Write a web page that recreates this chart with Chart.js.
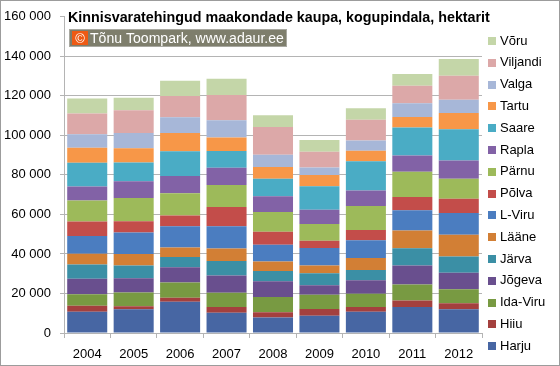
<!DOCTYPE html>
<html>
<head>
<meta charset="utf-8">
<script src="https://cdn.jsdelivr.net/npm/chart.js@4"></script>
<style>
  html, body { margin: 0; padding: 0; background: #fff; }
  #wrap { width: 560px; height: 366px; }
</style>
</head>
<body>
<div id="wrap"><canvas id="chart" width="560" height="366"></canvas></div>
<script>
// Kinnisvaratehingud maakondade kaupa, hektarit
const years = ['2004', '2005', '2006', '2007', '2008', '2009', '2010', '2011', '2012'];

const harju    = [10800, 12000, 15800, 10300, 7800, 8700, 10800, 13200, 12000];
const hiiu     = [3000, 1500, 2000, 2800, 2700, 3500, 2300, 3300, 3000];
const idaViru  = [5800, 7000, 7800, 7300, 7700, 7200, 6800, 8000, 7200];
const jogeva   = [7800, 7200, 7700, 8700, 8000, 4800, 6800, 9700, 8300];
const jarva    = [7200, 6500, 5200, 7300, 5200, 6000, 5200, 8700, 8200];
const laane    = [5500, 5800, 4800, 6300, 4800, 4000, 6000, 9000, 11000];
const lViru    = [9000, 10800, 10700, 11300, 8500, 8800, 9000, 10200, 11000];
const polva    = [7300, 5700, 5500, 9700, 6500, 3700, 5200, 6700, 7200];
const parnu    = [10700, 11800, 11200, 11200, 10000, 8500, 12200, 12800, 10200];
const rapla    = [7000, 8500, 8800, 8700, 8000, 7200, 7800, 8200, 9200];
const saare    = [12000, 9500, 12500, 8500, 8800, 11800, 14800, 14200, 15800];
const tartu    = [7700, 7200, 9200, 6800, 6000, 5700, 5300, 5300, 8200];
const valga    = [6800, 7700, 8000, 8800, 6200, 3800, 5200, 7000, 6700];
const viljandi = [10500, 11500, 10700, 12700, 14000, 8000, 10500, 8800, 12200];
const voru     = [7500, 6300, 7800, 8200, 6000, 6000, 5800, 6000, 8500];

const countyNames = ['Harju', 'Hiiu', 'Ida-Viru', 'Jõgeva', 'Järva', 'Lääne', 'L-Viru',
    'Põlva', 'Pärnu', 'Rapla', 'Saare', 'Tartu', 'Valga', 'Viljandi', 'Võru'];
const countyValues = [harju, hiiu, idaViru, jogeva, jarva, laane, lViru,
    polva, parnu, rapla, saare, tartu, valga, viljandi, voru];
const countyColors = ['#4766a3', '#a4403e', '#789a42', '#694f8e', '#3b8fa5', '#d27f35', '#4b7dc0',
    '#c34d4a', '#9dba5a', '#8262a6', '#4aacc5', '#f79748', '#a7b7d8', '#dca8a8', '#c4d6a8'];

const yTicks = [0, 20000, 40000, 60000, 80000, 100000, 120000, 140000, 160000];

const titleText = 'Kinnisvaratehingud maakondade kaupa, kogupindala, hektarit';
const creditText = 'Tõnu Toompark, www.adaur.ee';

const FONT = "'Liberation Sans', Arial, sans-serif";
const GRID = '#b4b4b4';

// fit a font size so that the text gets the wanted width
function fitFont(ctx, text, weight, width, base) {
    ctx.font = weight + ' ' + base + 'px ' + FONT;
    const w = ctx.measureText(text).width;
    return base * width / w;
}

// Frame, title, credit box and the legend
const decorPlugin = {
    id: 'decor',
    afterDraw(chart) {
        const ctx = chart.ctx;
        ctx.save();

        // outer frame
        ctx.strokeStyle = '#9c9c9c';
        ctx.lineWidth = 1;
        ctx.strokeRect(0.5, 0.5, chart.width - 1, chart.height - 1);

        // title
        const ts = fitFont(ctx, titleText, 'bold', 422, 14);
        ctx.font = 'bold ' + ts + 'px ' + FONT;
        ctx.fillStyle = '#000';
        ctx.textAlign = 'left';
        ctx.textBaseline = 'alphabetic';
        ctx.fillText(titleText, 68, 22);

        // credit box
        ctx.fillStyle = '#a8a8a0';
        ctx.fillRect(69, 29, 218, 18);
        ctx.fillStyle = '#7e7e6c';
        ctx.fillRect(70, 30, 216, 16);
        ctx.fillStyle = '#ee5a14';
        ctx.fillRect(72, 31, 16, 14);
        ctx.fillStyle = '#fff';
        ctx.font = '13px ' + FONT;
        ctx.textAlign = 'center';
        ctx.fillText('©', 80, 43);
        const cs = fitFont(ctx, creditText, 'normal', 194, 14);
        ctx.font = cs + 'px ' + FONT;
        ctx.textAlign = 'left';
        ctx.fillText(creditText, 90, 43);

        // legend, reversed order like the stack
        ctx.font = '13px ' + FONT;
        ctx.textBaseline = 'middle';
        const sets = chart.data.datasets;
        for (let k = 0; k < sets.length; k++) {
            const ds = sets[sets.length - 1 - k];
            const y = 41 + k * 21.8;
            ctx.fillStyle = ds.backgroundColor;
            ctx.fillRect(488, Math.round(y - 4), 8, 8);
            ctx.fillStyle = '#000';
            ctx.fillText(ds.label, 500, y);
        }
        ctx.restore();
    }
};

const datasets = countyNames.map((name, i) => ({
    label: name,
    data: countyValues[i],
    backgroundColor: countyColors[i],
    borderWidth: 0,
    barPercentage: 0.862,
    categoryPercentage: 1
}));

new Chart(document.getElementById('chart'), {
    type: 'bar',
    data: { labels: years, datasets: datasets },
    options: {
        responsive: false,
        animation: false,
        layout: { padding: { left: 0, right: 78, top: 13, bottom: 0 } },
        plugins: {
            legend: { display: false },
            tooltip: { enabled: false }
        },
        scales: {
            x: {
                stacked: true,
                grid: {
                    display: true,
                    drawOnChartArea: false,
                    offset: true,
                    tickLength: 5,
                    color: GRID
                },
                border: { color: GRID },
                ticks: {
                    color: '#000',
                    font: { family: FONT, size: 13 },
                    padding: 9
                },
                afterFit(scale) { scale.height = 33; }
            },
            y: {
                stacked: true,
                min: 0,
                max: 160000,
                afterBuildTicks(scale) {
                    scale.ticks = yTicks.map(v => ({ value: v }));
                },
                grid: {
                    color: ctx => (ctx.tick && ctx.tick.value === 160000) ? 'rgba(0,0,0,0)' : GRID,
                    tickColor: GRID,
                    tickLength: 4
                },
                border: { color: GRID },
                ticks: {
                    color: '#000',
                    font: { family: FONT, size: 13 },
                    padding: 9,
                    callback: v => String(v).replace(/\B(?=(\d{3})+(?!\d))/g, ' ')
                },
                afterFit(scale) { scale.width = 64; }
            }
        }
    },
    plugins: [decorPlugin]
});
</script>
</body>
</html>
